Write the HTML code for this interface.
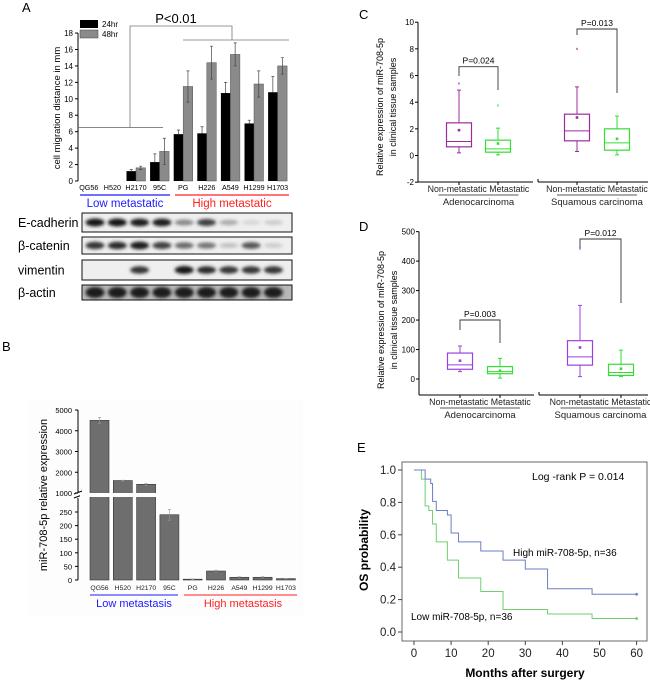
<!DOCTYPE html>
<html><head><meta charset="utf-8">
<style>
html,body{margin:0;padding:0;background:#fff;}
svg{display:block;font-family:"Liberation Sans",Arial,sans-serif;}
</style></head>
<body>
<svg id="fig" width="650" height="683" viewBox="0 0 650 683" xmlns="http://www.w3.org/2000/svg">
<defs>
<filter id="blur" x="-30%" y="-80%" width="160%" height="260%"><feGaussianBlur stdDeviation="1.6"/></filter>
</defs>
<text x="22" y="12" font-size="13">A</text>
<text x="2" y="351" font-size="13">B</text>
<text x="359" y="19" font-size="13">C</text>
<text x="359" y="231" font-size="13">D</text>
<text x="357" y="452" font-size="13">E</text>
<g id="gA"></g>
<g id="gBlot"></g>
<g id="gB"></g>
<g id="gC"></g>
<g id="gD"></g>
<g id="gE"></g>
</svg>
<script>
const cellLines = ["QG56","H520","H2170","95C","PG","H226","A549","H1299","H1703"];
const mig24 = [0,0,1.2,2.3,5.7,5.8,10.7,7.0,10.8];
const mig24Err = [0,0,0.2,1.0,0.5,0.8,1.3,0.4,1.9];
const mig48 = [0,0,1.6,3.6,11.5,14.4,15.4,11.8,14.0];
const mig48Err = [0,0,0.2,1.6,1.9,2.0,1.4,1.6,1.0];
const migTicks = [0,2,4,6,8,10,12,14,16,18];
const blotNames = ["E-cadherin","β-catenin","vimentin","β-actin"];
const blotEcad = [1,1,0.95,0.95,0.45,0.8,0.3,0.1,0.15];
const blotBcat = [0.85,0.9,0.95,0.8,0.6,0.55,0.2,0.7,0.15];
const blotVim = [0,0,0.85,0,1,0.9,0.85,0.85,0.85];
const blotAct = [0.95,0.95,0.95,0.95,0.95,0.95,0.95,0.95,0.95];
const mirExpr = [4500,1600,1420,240,3,33,10,10,5];
const mirErr = [150,20,50,20,1,3,2,2,1];
const mirTicksLow = [0,50,100,150,200,250];
const mirTicksHigh = [1000,2000,3000,4000,5000];
const boxGroups = ["Non-metastatic","Metastatic","Non-metastatic","Metastatic"];
const boxC_min = [0.2,0.05,0.3,0.05];
const boxC_q1 = [0.65,0.25,1.1,0.4];
const boxC_med = [1.05,0.5,1.85,0.95];
const boxC_q3 = [2.45,1.15,3.1,2.0];
const boxC_max = [4.9,2.05,5.15,2.95];
const boxC_mean = [1.9,0.9,2.85,1.25];
const boxC_out = [5.4,3.75,8,null];
const boxC_ticks = [-2,0,2,4,6,8,10];
const boxD_min = [25,3,8,8];
const boxD_q1 = [33,18,47,12];
const boxD_med = [48,25,75,22];
const boxD_q3 = [88,42,130,50];
const boxD_max = [112,70,250,98];
const boxD_mean = [62,28,107,35];
const boxD_out = [null,null,442,null];
const boxD_ticks = [0,100,200,300,400,500];
const kmHighT = [0,3,4.5,5,6,9,10,12,18,24,30,36,48,60];
const kmHighS = [1,0.944,0.917,0.806,0.75,0.722,0.611,0.556,0.5,0.444,0.389,0.267,0.233,0.233];
const kmLowT = [0,2,3,4,5,6,9,12,18,24,36,48,60];
const kmLowS = [1,0.944,0.778,0.75,0.667,0.556,0.444,0.333,0.25,0.139,0.111,0.083,0.083];
const kmXTicks = [0,10,20,30,40,50,60];
const kmYTicks = [0,0.2,0.4,0.6,0.8,1.0];

const NS="http://www.w3.org/2000/svg";
function mk(parent, tag, attrs, txt){
  const el=document.createElementNS(NS,tag);
  for(const k in attrs) el.setAttribute(k,attrs[k]);
  if(txt!==undefined) el.textContent=txt;
  parent.appendChild(el);
  return el;
}
let el;

(function(){
  const g=document.getElementById('gA');
  const y=v=>181-v*8.22;
  const xc=i=>88.8+i*23.6;
  const bw=9.5;
  el=mk(g,'line',{x1:78,y1:33,x2:78,y2:181,stroke:'#000','stroke-width':1});
  
  
  migTicks.forEach(t=>{
    el=mk(g,'line',{x1:75,y1:y(t),x2:78,y2:y(t),stroke:'#000'});
    
    
    el=mk(g,'text',{x:73,y:y(t)+3,'font-size':8,'text-anchor':'end'},t);
    
    
  });
  el=mk(g,'text',{transform:'translate(60,108) rotate(-90)','font-size':9.5,'text-anchor':'middle'},'cell migration distance in mm');
  
  
  cellLines.forEach((c,i)=>{
    const x=xc(i);
    if(mig24[i]>0){
      el=mk(g,'rect',{x:x-bw,y:y(mig24[i]),width:bw,height:181-y(mig24[i]),fill:'#000'});
      
      
      el=mk(g,'path',{d:`M${x-bw/2} ${y(mig24[i])} V${y(mig24[i]+mig24Err[i])} m-1.5 0 h3`,stroke:'#444',fill:'none','stroke-width':0.7});
      
      
    }
    if(mig48[i]>0){
      el=mk(g,'rect',{x:x,y:y(mig48[i]),width:bw,height:181-y(mig48[i]),fill:'#8a8a8a',stroke:'#555','stroke-width':0.5});
      
      
      el=mk(g,'path',{d:`M${x+bw/2} ${y(mig48[i]+mig48Err[i])} V${y(mig48[i]-mig48Err[i])} m-1.5 0 h3 M${x+bw/2-1.5} ${y(mig48[i]+mig48Err[i])} h3`,stroke:'#444',fill:'none','stroke-width':0.7});
      
      
    }
    el=mk(g,'text',{x:x,y:190,'font-size':7.2,'text-anchor':'middle'},c);
    
    
  });
  el=mk(g,'line',{x1:80,y1:195,x2:170,y2:195,stroke:'#1a1aff','stroke-width':1.2});
  
  
  el=mk(g,'line',{x1:175,y1:195,x2:289,y2:195,stroke:'#ff2020','stroke-width':1.2});
  
  
  el=mk(g,'text',{x:125,y:207,'font-size':11.5,fill:'#1a1aff','text-anchor':'middle'},'Low metastatic');
  
  
  el=mk(g,'text',{x:232,y:207,'font-size':11.5,fill:'#ff2020','text-anchor':'middle'},'High metastatic');
  
  
  el=mk(g,'path',{d:`M78 ${y(6.5)} H163 M130 ${y(6.5)} V26 H232 V40 M183 40 H289`,stroke:'#777',fill:'none','stroke-width':0.8});
  
  
  el=mk(g,'text',{x:176,y:23,'font-size':13,'text-anchor':'middle'},'P<0.01');
  
  
  el=mk(g,'rect',{x:80,y:20,width:44,height:20,fill:'#fff'});
  
  
  el=mk(g,'rect',{x:80,y:20,width:18,height:8,fill:'#000'});
  
  
  el=mk(g,'text',{x:102,y:27,'font-size':8},'24hr');
  
  
  el=mk(g,'rect',{x:80,y:30,width:18,height:8,fill:'#8a8a8a',stroke:'#444','stroke-width':0.5});
  
  
  el=mk(g,'text',{x:102,y:37,'font-size':8},'48hr');
  
  
})();

(function(){
  const g=document.getElementById('gBlot');
  const rows=[[213,232,blotEcad],[237,254,blotBcat],[260,280,blotVim],[285,300,blotAct]];
  rows.forEach((r,ri)=>{
    el=mk(g,'rect',{x:82,y:r[0],width:210,height:r[1]-r[0],fill:ri===3?'#b8b8b8':'#efefef',stroke:'#111','stroke-width':1});
    
    
    const cy=(r[0]+r[1])/2;
    r[2].forEach((v,i)=>{
      if(v<=0.02) return;
      const c=Math.round(235-v*215);
      el=mk(g,'ellipse',{cx:95+i*22.3,cy:cy,rx:9.5,ry:ri===3?5.5:3.6*(0.6+0.5*v),fill:`rgb(${c},${c},${c})`,filter:'url(#blur)'});
      
      
    });
    el=mk(g,'text',{x:18,y:cy+4.5,'font-size':12.5},blotNames[ri]);
    
    
  });
})();

(function(){
  const g=document.getElementById('gB');
  const yL=v=>580-v*0.272;
  const yH=v=>493-(v-1000)*0.02075;
  const y=v=>v<=260?yL(v):yH(Math.max(v,1000));
  const xc=i=>99.5+i*23.3;
  el=mk(g,'rect',{x:28,y:400,width:275,height:215,fill:'#fdfdfd'});
  
  
  el=mk(g,'path',{d:'M78 410 V492 M78 498 V580',stroke:'#000',fill:'none'});
  
  
  el=mk(g,'path',{d:'M74 494 L82 491 M74 498 L82 495',stroke:'#000',fill:'none'});
  
  
  mirTicksLow.forEach(t=>{
    el=mk(g,'line',{x1:75,y1:yL(t),x2:78,y2:yL(t),stroke:'#000'});
    
    
    el=mk(g,'text',{x:72,y:yL(t)+3,'font-size':7.5,'text-anchor':'end'},t);
    
    
  });
  mirTicksHigh.forEach(t=>{
    el=mk(g,'line',{x1:75,y1:yH(t),x2:78,y2:yH(t),stroke:'#000'});
    
    
    el=mk(g,'text',{x:72,y:yH(t)+3,'font-size':7.5,'text-anchor':'end'},t);
    
    
  });
  el=mk(g,'text',{transform:'translate(47,495) rotate(-90)','font-size':11,'text-anchor':'middle'},'miR-708-5p relative expression');
  
  
  cellLines.forEach((c,i)=>{
    const x=xc(i), top=y(mirExpr[i]);
    el=mk(g,'rect',{x:x-9.5,y:top,width:19,height:580-top,fill:'#6e6e6e',stroke:'#333','stroke-width':0.6});
    
    
    const eT=y(mirExpr[i]+mirErr[i]), eB=y(mirExpr[i]-mirErr[i]);
    el=mk(g,'path',{d:`M${x} ${eT} V${eB} M${x-1.5} ${eT} h3 M${x-1.5} ${eB} h3`,stroke:'#999',fill:'none','stroke-width':0.6});
    
    
    el=mk(g,'text',{x:x,y:590,'font-size':6.8,'text-anchor':'middle',fill:'#222'},c);
    
    
  });
  el=mk(g,'rect',{x:80,y:493,width:220,height:4,fill:'#fdfdfd'});
  
  
  el=mk(g,'line',{x1:90,y1:595,x2:178,y2:595,stroke:'#1a1aff','stroke-width':1});
  
  
  el=mk(g,'line',{x1:184,y1:595,x2:297,y2:595,stroke:'#ff2020','stroke-width':1});
  
  
  el=mk(g,'text',{x:134,y:607,'font-size':11,fill:'#1a1aff','text-anchor':'middle'},'Low metastasis');
  
  
  el=mk(g,'text',{x:243,y:607,'font-size':11,fill:'#ff2020','text-anchor':'middle'},'High metastasis');
  
  
})();

function boxPanel(gid,cfg,mn,q1,md,q3,mx,mean,out,ticks){
  const g=document.getElementById(gid);
  const y=cfg.y;
  el=mk(g,'line',{x1:cfg.ax,y1:y(ticks[ticks.length-1]),x2:cfg.ax,y2:cfg.bottom,stroke:'#000'});
  
  
  el=mk(g,'path',{d:`M${cfg.ax} ${cfg.bottom} H${cfg.ax+115} M${cfg.ax+120} ${cfg.bottom} H648 M${cfg.ax+120} ${cfg.bottom} v-3`,stroke:'#000',fill:'none'});
  
  
  ticks.forEach(t=>{
    el=mk(g,'line',{x1:cfg.ax-3,y1:y(t),x2:cfg.ax,y2:y(t),stroke:'#000'});
    
    
    el=mk(g,'text',{x:cfg.ax-4,y:y(t)+3,'font-size':8,'text-anchor':'end'},t);
    
    
  });
  el=mk(g,'text',{transform:`translate(${cfg.tx},${cfg.ty}) rotate(-90)`,'font-size':9,'text-anchor':'middle'},'Relative expression of miR-708-5p');
  
  
  el=mk(g,'text',{transform:`translate(${cfg.tx+13},${cfg.ty}) rotate(-90)`,'font-size':9,'text-anchor':'middle'},'in clinical tissue samples');
  
  
  boxGroups.forEach((name,i)=>{
    const x=cfg.xs[i], col=i%2===0?cfg.c1:cfg.c2, w=12.5;
    el=mk(g,'path',{d:`M${x} ${y(mn[i])} V${y(q1[i])} M${x} ${y(q3[i])} V${y(mx[i])} M${x-2} ${y(mn[i])} h4 M${x-2} ${y(mx[i])} h4`,stroke:col,fill:'none','stroke-width':1});
    
    
    el=mk(g,'rect',{x:x-w,y:y(q3[i]),width:2*w,height:y(q1[i])-y(q3[i]),fill:'none',stroke:col,'stroke-width':1.2});
    
    
    el=mk(g,'line',{x1:x-w,y1:y(md[i]),x2:x+w,y2:y(md[i]),stroke:col,'stroke-width':1});
    
    
    el=mk(g,'rect',{x:x-1.3,y:y(mean[i])-1.3,width:2.6,height:2.6,fill:col});
    
    
    if(out[i]!==null){
      el=mk(g,'rect',{x:x-1,y:y(out[i])-1,width:2,height:2,fill:col,opacity:0.6});
      
      
    }
    el=mk(g,'line',{x1:x,y1:cfg.bottom,x2:x,y2:cfg.bottom+3,stroke:'#000'});
    
    
  });
  [[0,1,'Adenocarcinoma'],[2,3,'Squamous carcinoma']].forEach(([a,b,lab])=>{
    const mid=(cfg.xs[a]+cfg.xs[b])/2;
    el=mk(g,'text',{x:mid,y:cfg.bottom+10,'font-size':8.8,'text-anchor':'middle',fill:'#222'},'Non-metastatic Metastatic');
    
    
    el=mk(g,'line',{x1:mid-40,y1:cfg.bottom+cfg.ul,x2:mid+40,y2:cfg.bottom+cfg.ul,stroke:'#222','stroke-width':0.8});
    
    
    el=mk(g,'text',{x:mid,y:cfg.bottom+cfg.gl,'font-size':9.5,'text-anchor':'middle',fill:'#222'},lab);
    
    
  });
  cfg.br.forEach(b=>{
    const xa=cfg.xs[b.a], xb=cfg.xs[b.b];
    el=mk(g,'path',{d:`M${xa} ${b.l} V${b.h} H${xb} V${b.r}`,stroke:'#333',fill:'none','stroke-width':0.9});
    
    
    el=mk(g,'text',{x:(xa+xb)/2,y:b.h-3,'font-size':8.5,'text-anchor':'middle'},b.t);
    
    
  });
}
boxPanel('gC',{y:v=>155.5-v*13.33,ax:418,bottom:182,tx:383,ty:107,xs:[459,498,577,617],c1:'#9b2d9b',c2:'#33dd33',ul:13,gl:23,
  br:[{a:0,b:1,h:66.7,l:76,r:90,t:'P=0.024'},{a:2,b:3,h:29,l:35,r:93,t:'P=0.013'}]},
  boxC_min,boxC_q1,boxC_med,boxC_q3,boxC_max,boxC_mean,boxC_out,boxC_ticks);
boxPanel('gD',{y:v=>379-v*0.2947,ax:419,bottom:395,tx:384,ty:320,xs:[460,500,580,621],c1:'#9b40e0',c2:'#33dd33',ul:13,gl:23,
  br:[{a:0,b:1,h:320,l:330,r:343,t:'P=0.003'},{a:2,b:3,h:239,l:248,r:303,t:'P=0.012'}]},
  boxD_min,boxD_q1,boxD_med,boxD_q3,boxD_max,boxD_mean,boxD_out,boxD_ticks);

(function(){
  const g=document.getElementById('gE');
  const x=t=>414+t*3.71;
  const y=s=>632-s*162;
  el=mk(g,'rect',{x:402,y:462,width:245,height:179,fill:'none',stroke:'#444','stroke-width':0.8});
  
  
  kmYTicks.forEach(t=>{
    el=mk(g,'line',{x1:398,y1:y(t),x2:402,y2:y(t),stroke:'#444'});
    
    
    el=mk(g,'text',{x:396,y:y(t)+4,'font-size':11.5,'text-anchor':'end',fill:'#222'},t.toFixed(1));
    
    
  });
  kmXTicks.forEach(t=>{
    el=mk(g,'line',{x1:x(t),y1:641,x2:x(t),y2:645,stroke:'#444'});
    
    
    el=mk(g,'text',{x:x(t),y:657,'font-size':11.5,'text-anchor':'middle',fill:'#222'},t);
    
    
  });
  el=mk(g,'text',{x:525,y:677,'font-size':12,'font-weight':'bold','text-anchor':'middle'},'Months after surgery');
  
  
  el=mk(g,'text',{transform:'translate(368,550) rotate(-90)','font-size':12,'font-weight':'bold','text-anchor':'middle'},'OS probability');
  
  
  function step(T,S,col,name){
    let d=`M${x(T[0])} ${y(S[0])}`;
    for(let i=1;i<T.length;i++){ d+=` H${x(T[i])} V${y(S[i])}`; }
    el=mk(g,'path',{d:d,stroke:col,fill:'none','stroke-width':1});
    
    
    el=mk(g,'circle',{cx:x(T[T.length-1]),cy:y(S[S.length-1]),r:1.4,fill:col});
    
    
  }
  step(kmLowT,kmLowS,'#6fcf6f','line-low-mir708');
  step(kmHighT,kmHighS,'#6b7fc4','line-high-mir708');
  el=mk(g,'text',{x:532,y:480,'font-size':10.5},'Log -rank P = 0.014');
  
  
  el=mk(g,'text',{x:513,y:556,'font-size':10},'High miR-708-5p, n=36');
  
  
  el=mk(g,'text',{x:411,y:620,'font-size':10},'Low miR-708-5p, n=36');
  
  
})();
</script>
</body></html>
